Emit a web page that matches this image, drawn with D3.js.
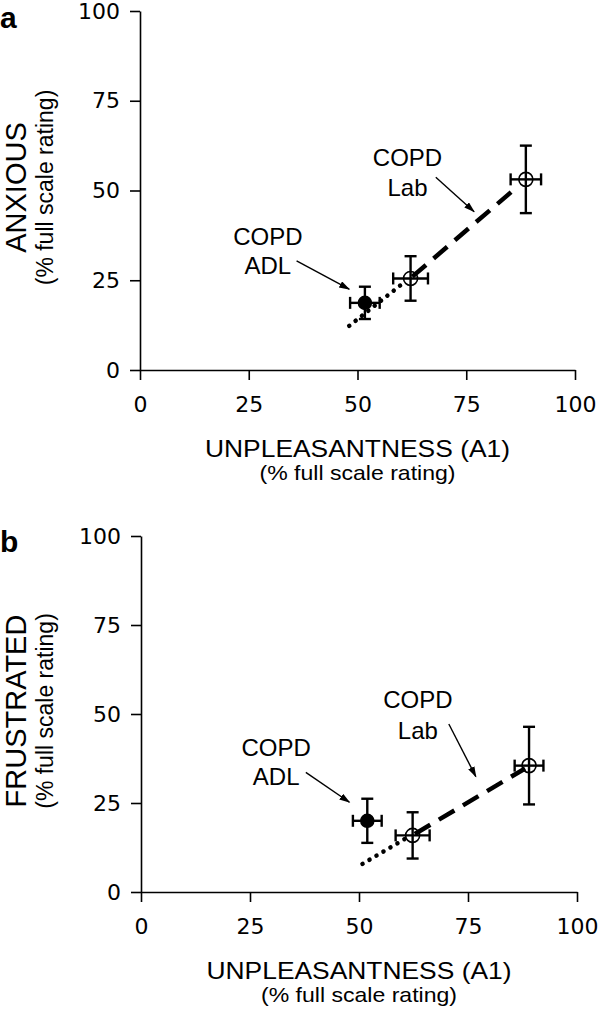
<!DOCTYPE html>
<html>
<head>
<meta charset="utf-8">
<script src="https://cdn.jsdelivr.net/npm/d3@7"></script>
<style>
  body { margin: 0; background: #fff; }
  svg { display: block; }
</style>
</head>
<body>
<div id="chart"></div>
<script>
// axis ticks
var xTicks = [0, 25, 50, 75, 100];
var yTicks = [0, 25, 50, 75, 100];

// points: COPD ADL, COPD Lab (lower), COPD Lab (upper)
var pointGroup = ["ADL", "Lab", "Lab"];

var unpleasA = [51.7, 62.2, 88.7];
var unpleasAErr = [3.4, 4.0, 3.5];
var anxious = [18.7, 25.5, 53.1];
var anxiousErr = [4.5, 6.2, 9.4];

var unpleasB = [51.9, 62.3, 89.0];
var unpleasBErr = [3.3, 3.9, 3.3];
var frustrated = [20.0, 15.9, 35.5];
var frustratedErr = [6.2, 6.5, 10.9];

// fitted lines (x, y)
var anxiousDotted = [[48.1, 12.3], [60.5, 24.2]];
var anxiousDashed = [[62.6, 26.0], [87.0, 51.3]];
var frustratedDotted = [[50.8, 7.9], [61.2, 15.4]];
var frustratedDashed = [[62.8, 16.3], [88.1, 34.7]];

var W = 600, H = 1014;

var svg = d3.select("#chart").append("svg")
    .attr("width", W)
    .attr("height", H);

svg.append("defs").append("marker")
    .attr("id", "arrow")
    .attr("markerUnits", "userSpaceOnUse")
    .attr("markerWidth", 12)
    .attr("markerHeight", 8)
    .attr("refX", 10)
    .attr("refY", 3.5)
    .attr("orient", "auto")
    .append("path")
    .attr("d", "M0,0L11,3.5L0,7Z")
    .attr("fill", "#000");

function drawPanel(cfg) {
    var x = d3.scaleLinear().domain([0, 100]).range([cfg.left, cfg.right]);
    var y = d3.scaleLinear().domain([0, 100]).range([cfg.bottom, cfg.top]);
    var g = svg.append("g");

    var xAxis = g.append("g")
        .attr("transform", "translate(0," + cfg.bottom + ")")
        .call(d3.axisBottom(x).tickValues(xTicks).tickSize(10).tickSizeOuter(0).tickPadding(16));
    var yAxis = g.append("g")
        .attr("transform", "translate(" + cfg.left + ",0)")
        .call(d3.axisLeft(y).tickValues(yTicks).tickSize(10).tickSizeOuter(0).tickPadding(10));

    [xAxis, yAxis].forEach(function(a) {
        a.selectAll("path, line").attr("stroke", "#000").attr("stroke-width", 1.6);
        a.selectAll("text")
            .attr("fill", "#000")
            .style("font-family", "DejaVu Sans, Verdana, sans-serif")
            .style("font-size", "22px");
    });

    // panel letter
    g.append("text")
        .attr("x", 0)
        .attr("y", cfg.top + cfg.letterDy)
        .style("font-family", "Liberation Sans, Arial, sans-serif")
        .style("font-weight", "bold")
        .style("font-size", "30px")
        .text(cfg.letter);

    // x axis titles
    var cx = (cfg.left + cfg.right) / 2;
    g.append("text")
        .attr("x", cx)
        .attr("y", cfg.bottom + 87)
        .attr("text-anchor", "middle")
        .attr("textLength", 305)
        .attr("lengthAdjust", "spacingAndGlyphs")
        .style("font-family", "Liberation Sans, Arial, sans-serif")
        .style("font-size", "24px")
        .text("UNPLEASANTNESS (A1)");
    g.append("text")
        .attr("x", cx)
        .attr("y", cfg.bottom + 110)
        .attr("text-anchor", "middle")
        .attr("textLength", 196)
        .attr("lengthAdjust", "spacingAndGlyphs")
        .style("font-family", "Liberation Sans, Arial, sans-serif")
        .style("font-size", "21px")
        .text("(% full scale rating)");

    // y axis titles
    var cy = (cfg.top + cfg.bottom) / 2 - 3;
    g.append("text")
        .attr("transform", "translate(26," + cy + ") rotate(-90)")
        .attr("text-anchor", "middle")
        .style("font-family", "Liberation Sans, Arial, sans-serif")
        .style("font-size", "29px")
        .text(cfg.yTitle);
    g.append("text")
        .attr("transform", "translate(53," + cy + ") rotate(-90)")
        .attr("text-anchor", "middle")
        .style("font-family", "Liberation Sans, Arial, sans-serif")
        .style("font-size", "23px")
        .text("(% full scale rating)");

    var line = d3.line().x(function(d) { return x(d[0]); }).y(function(d) { return y(d[1]); });

    g.append("path")
        .attr("d", line(cfg.dotted))
        .attr("fill", "none")
        .attr("stroke", "#000")
        .attr("stroke-width", 4.5)
        .attr("stroke-linecap", "round")
        .attr("stroke-dasharray", "0.1,8");
    g.append("path")
        .attr("d", line(cfg.dashed))
        .attr("fill", "none")
        .attr("stroke", "#000")
        .attr("stroke-width", 4.5)
        .attr("stroke-dasharray", "18,10");

    var pts = cfg.xs.map(function(v, i) {
        return { x: v, xe: cfg.xe[i], y: cfg.ys[i], ye: cfg.ye[i], grp: pointGroup[i] };
    });
    var cap = 6;

    var eb = g.selectAll(".eb").data(pts).enter().append("g")
        .attr("stroke", "#000")
        .attr("stroke-width", 2.4);
    eb.append("line")
        .attr("x1", function(d) { return x(d.x); })
        .attr("x2", function(d) { return x(d.x); })
        .attr("y1", function(d) { return y(d.y - d.ye); })
        .attr("y2", function(d) { return y(d.y + d.ye); });
    eb.append("line")
        .attr("x1", function(d) { return x(d.x) - cap; })
        .attr("x2", function(d) { return x(d.x) + cap; })
        .attr("y1", function(d) { return y(d.y - d.ye); })
        .attr("y2", function(d) { return y(d.y - d.ye); });
    eb.append("line")
        .attr("x1", function(d) { return x(d.x) - cap; })
        .attr("x2", function(d) { return x(d.x) + cap; })
        .attr("y1", function(d) { return y(d.y + d.ye); })
        .attr("y2", function(d) { return y(d.y + d.ye); });
    eb.append("line")
        .attr("x1", function(d) { return x(d.x - d.xe); })
        .attr("x2", function(d) { return x(d.x + d.xe); })
        .attr("y1", function(d) { return y(d.y); })
        .attr("y2", function(d) { return y(d.y); });
    eb.append("line")
        .attr("x1", function(d) { return x(d.x - d.xe); })
        .attr("x2", function(d) { return x(d.x - d.xe); })
        .attr("y1", function(d) { return y(d.y) - cap; })
        .attr("y2", function(d) { return y(d.y) + cap; });
    eb.append("line")
        .attr("x1", function(d) { return x(d.x + d.xe); })
        .attr("x2", function(d) { return x(d.x + d.xe); })
        .attr("y1", function(d) { return y(d.y) - cap; })
        .attr("y2", function(d) { return y(d.y) + cap; });

    g.selectAll(".pt").data(pts).enter().append("circle")
        .attr("cx", function(d) { return x(d.x); })
        .attr("cy", function(d) { return y(d.y); })
        .attr("r", function(d) { return d.grp == "ADL" ? 6.5 : 7; })
        .attr("fill", function(d) { return d.grp == "ADL" ? "#000" : "none"; })
        .attr("stroke", "#000")
        .attr("stroke-width", 1.6);

    // annotations
    cfg.notes.forEach(function(n) {
        var t = g.append("text")
            .attr("text-anchor", "middle")
            .style("font-family", "Liberation Sans, Arial, sans-serif")
            .style("font-size", "24px");
        t.append("tspan").attr("x", x(n.tx)).attr("y", y(n.ty1)).text("COPD");
        t.append("tspan").attr("x", x(n.tx)).attr("y", y(n.ty2)).text(n.label);
        g.append("line")
            .attr("x1", x(n.a[0])).attr("y1", y(n.a[1]))
            .attr("x2", x(n.a[2])).attr("y2", y(n.a[3]))
            .attr("stroke", "#000")
            .attr("stroke-width", 1.4)
            .attr("marker-end", "url(#arrow)");
    });
}

drawPanel({
    letter: "a", letterDy: 17,
    left: 140, right: 575, top: 11, bottom: 370,
    yTitle: "ANXIOUS",
    xs: unpleasA, xe: unpleasAErr, ys: anxious, ye: anxiousErr,
    dotted: anxiousDotted, dashed: anxiousDashed,
    notes: [
        { label: "ADL", tx: 29.4, ty1: 34.8, ty2: 26.7, a: [36.0, 30.4, 48.1, 22.5] },
        { label: "Lab", tx: 61.5, ty1: 56.8, ty2: 48.5, a: [68.0, 53.7, 76.8, 44.1] }
    ]
});

drawPanel({
    letter: "b", letterDy: 16,
    left: 141, right: 577, top: 536, bottom: 892,
    yTitle: "FRUSTRATED",
    xs: unpleasB, xe: unpleasBErr, ys: frustrated, ye: frustratedErr,
    dotted: frustratedDotted, dashed: frustratedDashed,
    notes: [
        { label: "ADL", tx: 31.0, ty1: 38.2, ty2: 30.1, a: [37.8, 33.6, 47.8, 25.2] },
        { label: "Lab", tx: 63.5, ty1: 51.7, ty2: 43.0, a: [70.6, 47.2, 76.8, 32.4] }
    ]
});
</script>
</body>
</html>
